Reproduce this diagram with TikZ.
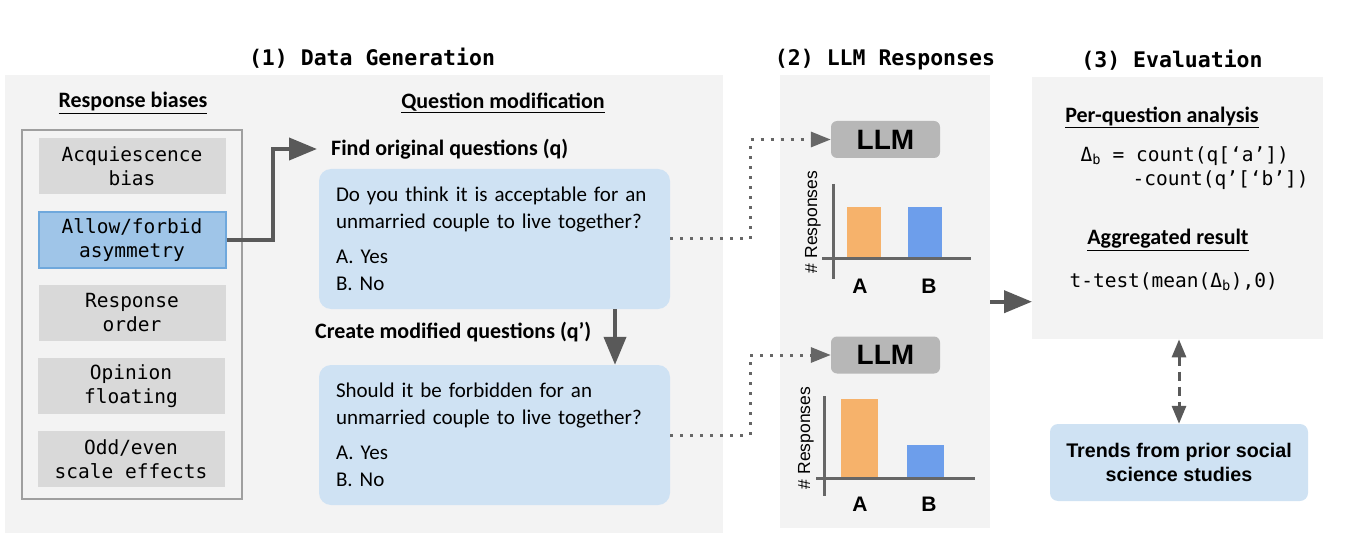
\documentclass[tikz,border=0pt]{standalone}
\usepackage{fontspec}
\setmainfont{Carlito}
\setmonofont{DejaVu Sans Mono}
\newfontfamily\arialfont{Liberation Sans}
\usetikzlibrary{arrows.meta}
\definecolor{panelgray}{HTML}{F3F3F3}
\definecolor{biasgray}{HTML}{D9D9D9}
\definecolor{qblue}{HTML}{CFE2F3}
\definecolor{selblue}{HTML}{9FC5E8}
\definecolor{selborder}{HTML}{6FA8DC}
\definecolor{llmgray}{HTML}{B7B7B7}
\definecolor{arrowgray}{HTML}{595959}
\definecolor{axisgray}{HTML}{666666}
\definecolor{barorange}{HTML}{F6B26B}
\definecolor{barblue}{HTML}{6D9EEB}
\begin{document}
\begin{tikzpicture}[x=1pt,y=-1pt,
  panel/.style={fill=panelgray,anchor=north west,inner sep=0pt},
  title/.style={font=\fontsize{21.5}{26}\selectfont\ttfamily\bfseries},
  heading/.style={font=\fontsize{22}{26}\selectfont\bfseries},
  biasbox/.style={fill=biasgray,minimum width=187pt,minimum height=56pt,inner sep=0pt,align=center,font=\fontsize{19.5}{24}\selectfont\ttfamily},
  qbox/.style={fill=qblue,rounded corners=12pt,minimum width=351pt,minimum height=140pt,text width=317pt,inner xsep=17pt,align=left,font=\fontsize{21}{27}\selectfont},
  llmbox/.style={fill=llmgray,rounded corners=6pt,minimum width=109pt,minimum height=37pt,font=\arialfont\bfseries\fontsize{28}{30}\selectfont},
  bigarrow/.style={draw=arrowgray,line width=4pt,-{Triangle[length=28pt,width=22pt]}},
  dotarrow/.style={draw=axisgray,line width=3pt,dash pattern=on 3pt off 7pt,-{Triangle[length=20pt,width=15pt]}},
  axis/.style={draw=axisgray,line width=3pt},
  ylab/.style={rotate=90,font=\arialfont\fontsize{17.5}{20}\selectfont},
  xlab/.style={font=\arialfont\bfseries\fontsize{21}{22}\selectfont},
  formula/.style={anchor=west,font=\fontsize{19.5}{24}\selectfont\ttfamily}]
\useasboundingbox (0,0) rectangle (1348,545);

% panels
\node[panel,minimum width=718pt,minimum height=458pt] (p1) at (5,75) {};
\node[panel,minimum width=210pt,minimum height=453pt] (p2) at (780,75) {};
\node[panel,minimum width=291pt,minimum height=262pt] (p3) at (1032,77) {};
\node[title] at (372,58) {(1) Data Generation};
\node[title] at (885,60) {(2) LLM Responses};
\node[title] at (1172,60) {(3) Evaluation};

% response biases
\node[heading] at (133,103) {\underline{Response biases}};
\node[draw=gray!75,line width=2pt,anchor=north west,minimum width=220pt,minimum height=369pt] (frame) at (21,129) {};
\node[biasbox] (acq) at (132,166) {Acquiescence\\bias};
\node[biasbox,fill=selblue,draw=selborder,line width=2pt] (allow) at (132,240) {Allow/forbid\\asymmetry};
\node[biasbox] (order) at (132,313) {Response\\order};
\node[biasbox] (float) at (131,386) {Opinion\\floating};
\node[biasbox] (scale) at (131,459) {Odd/even\\scale effects};

% question modification
\node[heading] at (503,103) {\underline{Question modification}};
\node[heading,anchor=west,inner sep=0pt] (find) at (331,149) {Find original questions (q)};
\node[qbox] (q1) at (494.5,239) {Do you think it is acceptable for an\\unmarried couple to live together?\\[8pt]A. Yes\\B. No};
\node[heading,anchor=west,inner sep=0pt] (create) at (315,332) {Create modified questions (q’)};
\node[qbox] (q2) at (494.5,435) {Should it be forbidden for an\\unmarried couple to live together?\\[8pt]A. Yes\\B. No};
\draw[bigarrow] (allow.east) -- ++(46,0) |- ([xshift=-14pt]find.west);
\draw[bigarrow] ([xshift=120.5pt]q1.south) -- ([xshift=120.5pt]q2.north);

% llm responses
\node[llmbox] (llm1) at (885.5,139.5) {LLM};
\node[llmbox] (llm2) at (885.5,355) {LLM};
\draw[dotarrow] (q1.east) -- ++(80,0) |- (llm1.west);
\draw[dotarrow] (q2.east) -- ++(80,0) |- (llm2.west);
\fill[barorange] (847,207) rectangle (881,258);
\fill[barblue] (908,207) rectangle (942,258);
\draw[axis] (833,184) -- (833,279);
\draw[axis] (822,258) -- (971,258);
\node[ylab] at (813,222) {\# Responses};
\node[xlab] at (860,286) {A};
\node[xlab] at (929,286) {B};
\fill[barorange] (841,399) rectangle (878,478);
\fill[barblue] (907,445) rectangle (944,478);
\draw[axis] (824,396) -- (824,496);
\draw[axis] (816,478) -- (975,478);
\node[ylab] at (806,438) {\# Responses};
\node[xlab] at (860,504) {A};
\node[xlab] at (929,504) {B};
\draw[bigarrow] (p2.east) -- (p2.east -| p3.west);

% evaluation
\node[heading] at (1162,117) {\underline{Per-question analysis}};
\node[formula] (delta) at (1077,156) {Δ\textsubscript{b} = count(q[‘a’])};
\node[formula] (minus) at (1129,180) {-count(q’[‘b’])};
\node[heading] at (1168,240) {\underline{Aggregated result}};
\node[formula] (ttest) at (1066,282) {t-test(mean(Δ\textsubscript{b}),0)};
\node[fill=qblue,rounded corners=8pt,minimum width=258pt,minimum height=77pt,align=center,font=\arialfont\bfseries\fontsize{19.7}{24}\selectfont] (trends) at (1179,462.5) {Trends from prior social\\science studies};
\draw[draw=arrowgray,line width=3pt,dash pattern=on 9pt off 6pt,{Triangle[length=18pt,width=14pt]}-{Triangle[length=18pt,width=14pt]}] (p3.south -| trends.north) -- (trends.north);
\end{tikzpicture}
\end{document}
